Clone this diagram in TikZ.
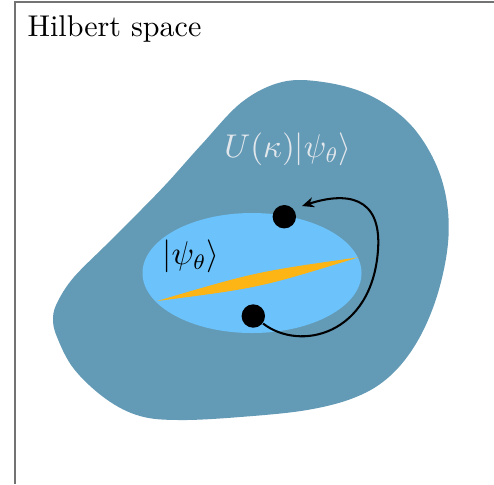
\documentclass[tikz,border=0pt]{standalone}
\usetikzlibrary{arrows.meta,calc}
\definecolor{blobblue}{RGB}{99,154,182}
\definecolor{lightblue}{RGB}{108,194,250}
\definecolor{streak}{RGB}{253,181,21}
\definecolor{labelgray}{RGB}{226,231,236}
\definecolor{framegray}{RGB}{115,115,115}
\tikzset{
  dot/.style={circle,fill=black,inner sep=0pt,minimum size=7.8pt},
  frameline/.style={draw=framegray,line width=0.6pt},
  flow/.style={draw=black,line width=0.68pt,-{Stealth[length=4pt,width=3.4pt]}},
  biglabel/.style={font=\fontsize{10.5}{13}\selectfont},
  titlefont/.style={font=\fontsize{10}{12}\selectfont}
}
\begin{document}
\begin{tikzpicture}[x=0.333pt,y=-0.333pt]
\useasboundingbox (0,0) rectangle (494,484);
% frame
\coordinate (fbl) at (15,484);
\coordinate (ftl) at (15,2);
\coordinate (ftr) at (494,2);
\draw[frameline] (fbl) -- (ftl) -- (ftr);
\node[anchor=base west,inner sep=0pt,titlefont] (title) at (27,36) {Hilbert space};
% blob
\fill[blobblue] plot[smooth cycle,tension=0.6] coordinates {
 (282,82) (323,82) (367,94) (406,120) (432,156) (446,197) (448,243)
 (437,296) (417,342) (390,376) (356,397) (307,410) (240,417) (180,420)
 (140,416) (106,399) (74,369) (57,337) (53,318) (58,301) (74,277)
 (107,244) (140,211) (168,182) (202,144) (242,102)};
% ellipse
\fill[lightblue] (252,273) ellipse [x radius=109.5, y radius=60];
% streak
\fill[streak] (157,301) .. controls (259.5,287.8) .. (358.5,257.3) .. controls (256,271.8) .. cycle;
% labels
\node[text=labelgray,biglabel] (ulabel) at (288,149) {$U(\kappa)|\psi_\theta\rangle$};
\node[biglabel] (plabel) at (191,256) {$|\psi_\theta\rangle$};
% dots
\node[dot] (d1) at (284.3,216.7) {};
\node[dot] (d2) at (253.3,316) {};
\coordinate (mid) at (378,250);
\draw[flow] (d2) .. controls (300,352) and (372,335) .. (mid)
  .. controls (382,195) and (345,192) .. ($(d1)+(17.7,-10.7)$);
\end{tikzpicture}
\end{document}
